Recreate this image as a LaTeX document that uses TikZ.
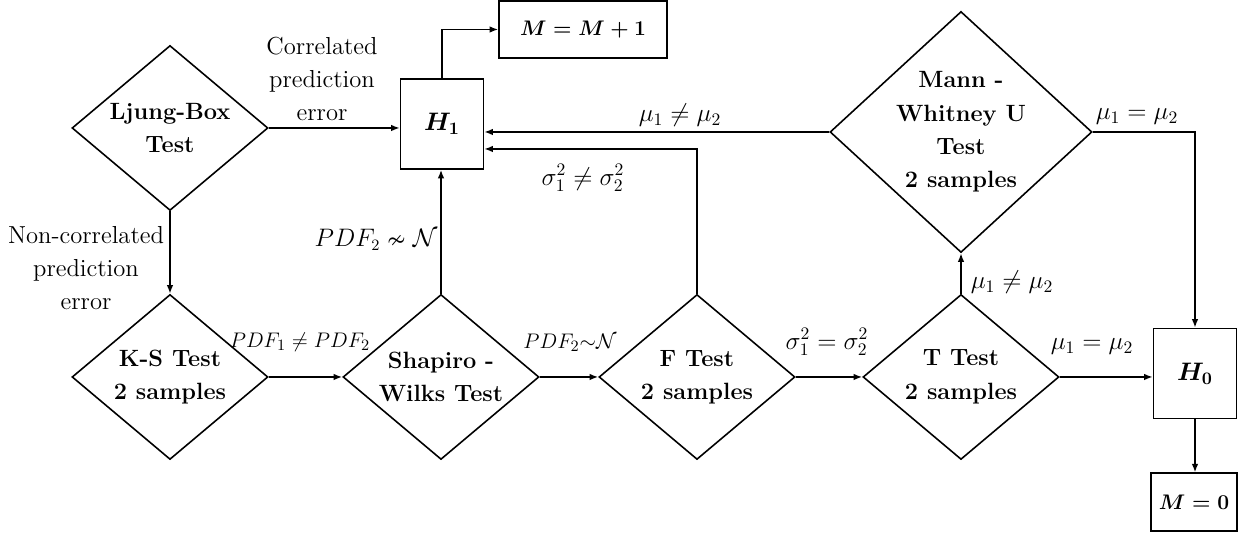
\documentclass[tikz,border=0pt]{standalone}
\usepackage{amsmath,amssymb}
\usetikzlibrary{shapes.geometric,arrows.meta,calc}

\begin{document}
\begin{tikzpicture}[>={Latex[length=1.7mm,width=1.3mm]},line width=0.9pt,
   test/.style={diamond,draw,align=center,inner sep=0pt,aspect=1.2,
     minimum width=3.92cm,minimum height=3.3cm,font=\fontsize{13.4}{19}\selectfont\bfseries},
   hyp/.style={rectangle,draw,minimum width=1.66cm,minimum height=1.8cm,font=\fontsize{14.5}{17}\selectfont},
   res/.style={rectangle,draw,minimum height=1.15cm,font=\fontsize{12.5}{15}\selectfont},
   txt/.style={align=center,font=\fontsize{14}{19}\selectfont},
   cond/.style={font=\fontsize{14.5}{17}\selectfont},
   pdf/.style={font=\fontsize{12.5}{15}\selectfont}] % {0}{24.84}{0}{10.72}
   \useasboundingbox (0,0) rectangle (24.84,10.72);
   \node[test] (lb) at (3.40,8.16) {Ljung-Box\\Test};
   \node[test] (ks) at (3.40,3.18) {K-S Test\\2 samples};
   \node[test] (sw) at (8.82,3.18) {Shapiro -\\Wilks Test};
   \node[test] (ft) at (13.94,3.18) {F Test\\2 samples};
   \node[test] (tt) at (19.22,3.18) {T Test\\2 samples};
   \node[test,aspect=1.09,minimum width=5.24cm,minimum height=4.82cm] (mw) at (19.22,8.08)
    {Mann -\\Whitney U\\Test\\2 samples};
   \node[hyp] (h1) at (8.84,8.24) {$\boldsymbol{H_1}$};
   \node[hyp] (h0) at (23.90,3.25) {$\boldsymbol{H_0}$};
   \node[res,minimum width=3.36cm] (inc) at (11.66,10.13) {$\boldsymbol{M=M+1}$};
   \node[res,minimum width=1.72cm] (rst) at (23.88,0.68) {$\boldsymbol{M=0}$};
   \draw[->] (lb.east) -- (lb.east -| h1.west);
   \draw[->] (lb.south) -- (ks.north);
   \draw[->] (ks.east) -- (sw.west);
   \draw[->] (sw.east) -- (ft.west);
   \draw[->] (ft.east) -- (tt.west);
   \draw[->] (tt.east) -- (tt.east -| h0.west);
   \draw[->] (sw.north) -- (sw.north |- h1.south);
   \draw[->] (h1.north) |- (inc.west);
   \draw[->] (mw.west) -- (mw.west -| h1.east);
   \draw[->] (ft.north) |- ($(h1.east)+(0,-0.5)$);
   \draw[->] (mw.east) -| (h0.north);
   \draw[->] (tt.north) -- (mw.south);
   \draw[->] (h0.south) -- (h0.south |- rst.north);
   \node[txt] (corr) at (6.44,9.14) {Correlated\\prediction\\error};
   \node[txt] (ncorr) at (1.72,5.36) {Non-correlated\\prediction\\error};
   \node[pdf] (ksno) at (6.00,3.88) {$PDF_1 \neq PDF_2$};
   \node[pdf,font=\fontsize{13.4}{16}\selectfont] (swno) at (7.52,5.92) {$PDF_2 \nsim \mathcal{N}$};
   \node[pdf] (swyes) at (11.40,3.86) {$PDF_2{\sim}\mathcal{N}$};
   \node[cond] (ftyes) at (16.54,3.88) {$\sigma_1^2 = \sigma_2^2$};
   \node[cond] (ftno) at (11.66,7.16) {$\sigma_1^2 \neq \sigma_2^2$};
   \node[cond] (ttyes) at (21.84,3.78) {$\mu_1 = \mu_2$};
   \node[cond] (ttno) at (20.24,5.08) {$\mu_1 \neq \mu_2$};
   \node[cond] (mwyes) at (22.74,8.38) {$\mu_1 = \mu_2$};
   \node[cond] (mwno) at (13.60,8.42) {$\mu_1 \neq \mu_2$};
  \end{tikzpicture}
\end{document}
